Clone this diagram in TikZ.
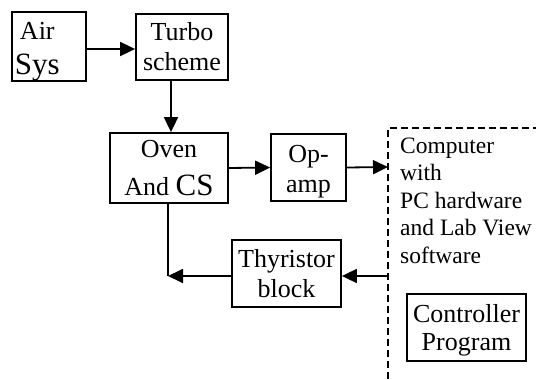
\documentclass[tikz,border=0pt]{standalone}
\usepackage{fontspec}
\setmainfont{Liberation Serif}
\usetikzlibrary{arrows.meta}
\tikzset{
  blk/.style={draw, line width=1.8pt, inner sep=0pt, align=center,
    font=\fontsize{26}{30}\selectfont},
  conn/.style={line width=1.8pt},
  arr/.style={conn, -{Triangle[length=15pt,width=14pt]}},
  dashbox/.style={line width=1.8pt, dash pattern=on 7pt off 4pt},
  txt/.style={inner sep=0pt, align=left, font=\fontsize{23.5}{27.5}\selectfont}
}
\begin{document}
\begin{tikzpicture}[x=1pt,y=-1pt]
\useasboundingbox (0,0) rectangle (536,380);
% boxes
\node[blk, align=left, text width=68pt, inner xsep=3pt, minimum height=67pt] (air) at (49,46.5)
  {\rule{0pt}{27pt}\hspace*{5pt}Air\\[5pt]{\fontsize{31}{34}\selectfont Sys}};
\node[blk, minimum width=92pt, minimum height=66pt] (turbo) at (182,47) {Turbo\\scheme};
\node[blk, minimum width=118pt, minimum height=70pt] (oven) at (169,168)
  {Oven\\[8pt]And {\fontsize{31}{34}\selectfont CS}};
\node[blk, minimum width=75pt, minimum height=67pt] (opamp) at (308.5,167.5)
  {\rule{0pt}{25pt}Op-\\amp};
\node[blk, minimum width=109pt, minimum height=67pt] (thy) at (286.5,273.5) {Thyristor\\block};
\node[blk, minimum width=119pt, minimum height=67pt] (ctrl) at (466.5,327.5)
  {\rule{0pt}{23pt}Controller\\[-2pt]Program};
% computer region
\coordinate (dtr) at (540,128);
\coordinate (dtl) at (388,128);
\coordinate (dbl) at (388,384);
\draw[dashbox] (dtr) -- (dtl) -- (dbl);
\node[txt, anchor=north west] (comp) at (400,137.5)
  {Computer\\with\\PC hardware\\and Lab View\\software};
% connectors
\coordinate (tx) at (171,0);
\coordinate (cin) at (388,167);
\coordinate (cout) at (388,276);
\coordinate (fb) at (168,276);
\draw[arr] ([yshift=-2.5pt]air.east) -- ([yshift=-2pt]turbo.west);
\draw[arr] (turbo.south -| tx) -- (oven.north -| tx);
\draw[arr] (oven.east) -- (opamp.west);
\draw[arr] (opamp.east) -- (cin);
\draw[arr] (cout) -- (thy.east |- cout);
\draw[conn] (oven.south -| fb) -- (fb);
\draw[arr] (thy.west |- fb) -- (fb);
\end{tikzpicture}
\end{document}
